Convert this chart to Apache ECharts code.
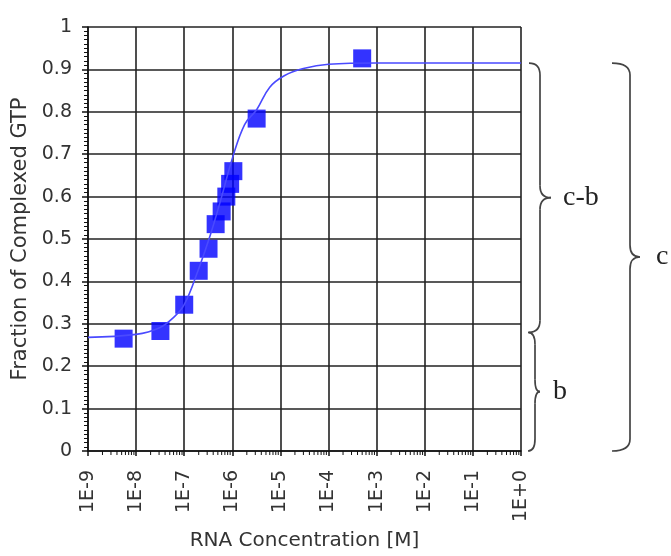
<!DOCTYPE html>
<html><head><meta charset="utf-8">
<script src="https://cdn.jsdelivr.net/npm/echarts@6/dist/echarts.min.js"></script>
<style>html,body{margin:0;padding:0;background:#fff}#c{width:671px;height:556px}</style>
</head><body><div id="c"></div>
<script>
// measured points
const pointX = [5.5e-9, 3.2e-8, 1.0e-7, 2.0e-7, 3.2e-7, 4.5e-7, 6.0e-7, 7.5e-7, 9.0e-7, 1.05e-6, 3.2e-6, 5.0e-4];
const pointY = [0.265, 0.283, 0.345, 0.425, 0.477, 0.535, 0.565, 0.600, 0.630, 0.660, 0.784, 0.926];
// fitted curve
const curveX = [1e-9, 1e-8, 3e-8, 6e-8, 1e-7, 2e-7, 3.5e-7, 6e-7, 1e-6, 1.8e-6, 3.2e-6, 6e-6, 1.2e-5, 3e-5, 1e-4, 1e-3, 1];
const curveY = [0.268, 0.275, 0.290, 0.315, 0.345, 0.430, 0.510, 0.600, 0.690, 0.770, 0.805, 0.858, 0.885, 0.902, 0.912, 0.915, 0.915];
const xTickLabels = ['1E-9','1E-8','1E-7','1E-6','1E-5','1E-4','1E-3','1E-2','1E-1','1E+0'];
const yTickLabels = ['0','0.1','0.2','0.3','0.4','0.5','0.6','0.7','0.8','0.9','1'];
const braceLow = [0.28, 0, 0];
const braceHigh = [0.915, 0.28, 0.915];
const braceLabels = ['c-b', 'b', 'c'];

const X_MIN = 1e-9, X_MAX = 1;
const minorTicks = [];
for (let d = -9; d < 0; d++) for (let k = 2; k <= 9; k++) minorTicks.push([k * Math.pow(10, d), 0]);

// brace geometry (pixels from right edge of plot)
const braceGeom = [
  {off: 8, vx: 11, w: 22, tx: 42},
  {off: 7, vx: 7, w: 12, tx: 32},
  {off: 91, vx: 18, w: 28, tx: 135}
];

const chart = echarts.init(document.getElementById('c'), null, {renderer: 'canvas'});
const SANS = 'DejaVu Sans, Verdana, sans-serif';
const SERIF = 'Liberation Serif, Times New Roman, serif';
const gridCol = '#222';

chart.setOption({
  animation: false,
  backgroundColor: '#fff',
  grid: {left: 88, right: 150, top: 27, bottom: 99},
  xAxis: {
    type: 'log', logBase: 10, min: X_MIN, max: X_MAX, splitNumber: 9,
    name: 'RNA Concentration [M]', nameLocation: 'middle', nameGap: 80,
    nameTextStyle: {fontFamily: SANS, fontSize: 20, color: '#333'},
    axisLine: {show: true, lineStyle: {color: '#111', width: 1.5}},
    axisTick: {show: true, length: 5, lineStyle: {color: '#111', width: 1.5}},
    axisLabel: {
      rotate: 90, margin: 19, fontFamily: SANS, fontSize: 19, color: '#333',
      showMinLabel: true, showMaxLabel: true,
      formatter: v => xTickLabels[Math.round(Math.log10(v)) + 9]
    },
    splitLine: {show: true, lineStyle: {color: gridCol, width: 1.6}}
  },
  yAxis: {
    type: 'value', min: 0, max: 1, interval: 0.1,
    name: 'Fraction of Complexed GTP', nameLocation: 'middle', nameGap: 54,
    nameTextStyle: {fontFamily: SANS, fontSize: 21, color: '#333'},
    axisLine: {show: true, lineStyle: {color: '#111', width: 1.5}},
    axisTick: {show: true, length: 6, lineStyle: {color: '#111', width: 1.5}},
    minorTick: {show: true, splitNumber: 10, length: 4, lineStyle: {color: '#111', width: 1}},
    axisLabel: {margin: 16, fontFamily: SANS, fontSize: 19, color: '#333',
      formatter: v => yTickLabels[Math.round(v * 10)]},
    splitLine: {show: true, lineStyle: {color: gridCol, width: 1.6}}
  },
  series: [
    {
      type: 'custom', clip: false, silent: true,
      data: minorTicks,
      renderItem: (params, api) => {
        const p = api.coord([api.value(0), api.value(1)]);
        return {type: 'line', shape: {x1: p[0], y1: p[1], x2: p[0], y2: p[1] + 4},
          style: {stroke: '#111', lineWidth: 1}};
      }
    },
    {
      type: 'line', smooth: 0.4, showSymbol: false, silent: true,
      data: curveX.map((x, i) => [x, curveY[i]]),
      lineStyle: {color: '#4a4aff', width: 1.6}
    },
    {
      type: 'scatter', symbol: 'rect', symbolSize: 18,
      data: pointX.map((x, i) => [x, pointY[i]]),
      itemStyle: {color: '#0000ff'}
    },
    {
      type: 'custom', clip: false, silent: true,
      data: braceLow.map((lo, i) => [X_MAX, lo, braceHigh[i]]),
      renderItem: (params, api) => {
        const g = braceGeom[params.dataIndex];
        const pLo = api.coord([api.value(0), api.value(1)]);
        const pHi = api.coord([api.value(0), api.value(2)]);
        const x0 = pLo[0] + g.off, xv = x0 + g.vx, xt = x0 + g.w;
        const yT = pHi[1], yB = pLo[1], yM = (yT + yB) / 2;
        const r = 12, st = {stroke: '#444', lineWidth: 1.7, fill: null};
        return {type: 'group', children: [
          {type: 'bezierCurve', shape: {x1: x0, y1: yT, cpx1: xv, cpy1: yT, x2: xv, y2: yT + r}, style: st},
          {type: 'line', shape: {x1: xv, y1: yT + r, x2: xv, y2: yM - r}, style: st},
          {type: 'bezierCurve', shape: {x1: xv, y1: yM - r, cpx1: xv, cpy1: yM, x2: xt, y2: yM}, style: st},
          {type: 'bezierCurve', shape: {x1: xt, y1: yM, cpx1: xv, cpy1: yM, x2: xv, y2: yM + r}, style: st},
          {type: 'line', shape: {x1: xv, y1: yM + r, x2: xv, y2: yB - r}, style: st},
          {type: 'bezierCurve', shape: {x1: xv, y1: yB - r, cpx1: xv, cpy1: yB, x2: x0, y2: yB}, style: st},
          {type: 'text', style: {x: pLo[0] + g.tx, y: yM, text: braceLabels[params.dataIndex],
            font: '28px ' + SERIF, fill: '#222', textAlign: 'left', textVerticalAlign: 'middle'}}
        ]};
      }
    }
  ]
});
</script></body></html>
